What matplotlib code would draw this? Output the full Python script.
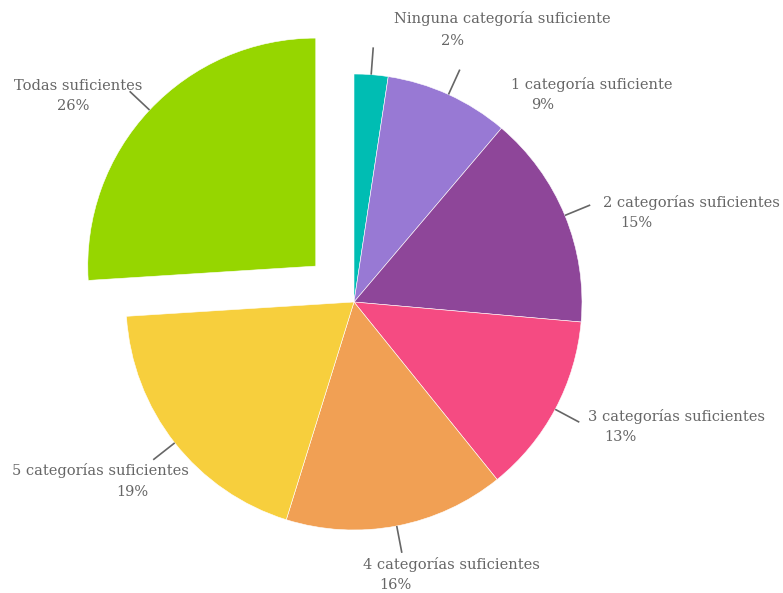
import numpy as np
import matplotlib.pyplot as plt

# datos del gráfico
categorias = ['Ninguna categoría suficiente', '1 categoría suficiente',
              '2 categorías suficientes', '3 categorías suficientes',
              '4 categorías suficientes', '5 categorías suficientes',
              'Todas suficientes']
porcentajes = [2.4, 8.8, 15.2, 12.8, 15.6, 19.2, 26.0]
etiquetas_pct = ['2%', '9%', '15%', '13%', '16%', '19%', '26%']

colores = ['#00BDB3', '#9879D4', '#8E4699', '#F54B82', '#F1A054', '#F7CF3D', '#96D600']
separacion = [0, 0, 0, 0, 0, 0, 0.23]

# posiciones de los textos (pixeles de la imagen): nombre (x, y), porcentaje (x, y)
pos_nombre = [(502, 19), (592, 85), (691, 203), (677, 417), (451, 565), (100, 471), (78, 86)]
pos_pct = [(452, 41), (543, 105), (636, 223), (620, 437), (395, 585), (132, 492), (73, 106)]

W, H = 783, 593
CX, CY, R = 354, 302, 228


def px(x, y):
    """pixel -> coordenadas de datos (radio 1)"""
    return (x - CX) / R, (CY - y) / R


fig = plt.figure(figsize=(W / 100, H / 100), dpi=100)
ax = fig.add_axes([0, 0, 1, 1])

wedges, _ = ax.pie(porcentajes, colors=colores, startangle=90, counterclock=False,
                   explode=separacion, radius=1, center=(0, 0),
                   wedgeprops=dict(edgecolor='white', linewidth=0.4))

# pie() fija sus propios limites, se reponen despues
ax.set_xlim(-CX / R, (W - CX) / R)
ax.set_ylim((CY - H) / R, CY / R)
ax.set_aspect('equal')
ax.axis('off')

gris = '#666666'
fuente = 'DejaVu Serif'
for i, w in enumerate(wedges):
    ang = np.deg2rad((w.theta1 + w.theta2) / 2)
    cx, cy = w.center
    x0, y0 = cx + np.cos(ang), cy + np.sin(ang)
    x1, y1 = cx + 1.12 * np.cos(ang), cy + 1.12 * np.sin(ang)
    ax.plot([x0, x1], [y0, y1], color=gris, lw=1.2, solid_capstyle='butt')
    nx, ny = px(*pos_nombre[i])
    ax.text(nx, ny, categorias[i], ha='center', va='center', fontsize=10.5,
            color=gris, family=fuente)
    qx, qy = px(*pos_pct[i])
    ax.text(qx, qy, etiquetas_pct[i], ha='center', va='center', fontsize=10.5,
            color=gris, family=fuente)

fig.savefig('out.png', dpi=100)
